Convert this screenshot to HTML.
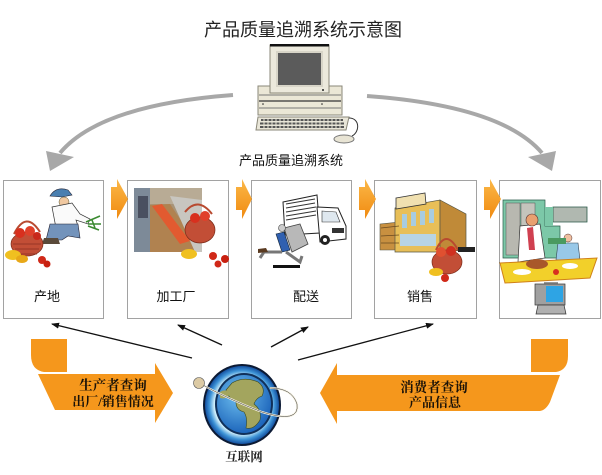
<!DOCTYPE html>
<html><head><meta charset="utf-8">
<style>
html,body{margin:0;padding:0;background:#fff;}
body{width:602px;height:475px;overflow:hidden;}
svg{display:block;}
.sans{font-family:"Liberation Sans","Noto Sans CJK SC",sans-serif;}
.serif{font-family:"Liberation Serif","Noto Serif CJK SC",serif;font-weight:bold;}
</style></head>
<body>
<svg width="602" height="475" viewBox="0 0 602 475" xmlns="http://www.w3.org/2000/svg">
<defs>
<marker id="ah" markerWidth="8" markerHeight="6" refX="7" refY="3" orient="auto" markerUnits="userSpaceOnUse">
<path d="M0,0 L8,3 L0,6 Z" fill="#111"/>
</marker>
<linearGradient id="og" x1="0" y1="0" x2="0" y2="1">
<stop offset="0" stop-color="#fbb848"/><stop offset="1" stop-color="#f08a10"/>
</linearGradient>
<radialGradient id="ring" cx="0.5" cy="0.5" r="0.5">
<stop offset="0.75" stop-color="#cfeefa"/><stop offset="0.88" stop-color="#3f95d8"/><stop offset="1" stop-color="#1450a0"/>
</radialGradient>
<radialGradient id="ocean" cx="0.4" cy="0.35" r="0.7">
<stop offset="0" stop-color="#6fc0f0"/><stop offset="1" stop-color="#1860b8"/>
</radialGradient>
</defs>

<!-- Title -->
<text x="303" y="36" font-size="18" text-anchor="middle" fill="#222" class="sans">产品质量追溯系统示意图</text>

<!-- Gray arcs -->
<path d="M233,95 Q100,105 60,153" fill="none" stroke="#a8a8a8" stroke-width="4"/>
<path d="M46,151 L74,157 L50,171 Z" fill="#a8a8a8"/>
<path d="M367,96 Q502,106 542,153" fill="none" stroke="#a8a8a8" stroke-width="4"/>
<path d="M556,151 L528,157 L552,171 Z" fill="#a8a8a8"/>

<!-- Computer -->
<rect x="258" y="86" width="84" height="29" fill="#ebe7d6" stroke="#8a8778" stroke-width="1"/>
<line x1="259" y1="95" x2="341" y2="95" stroke="#777" stroke-width="1"/>
<line x1="259" y1="101" x2="341" y2="101" stroke="#333" stroke-width="1.2"/>
<line x1="259" y1="108" x2="341" y2="108" stroke="#777" stroke-width="1"/>
<rect x="270" y="45" width="59" height="48" fill="#ece9dc" stroke="#8a8778" stroke-width="1"/>
<rect x="270" y="44" width="59" height="2.5" fill="#111"/>
<rect x="276" y="51" width="47" height="36" fill="#d8d5c8"/>
<rect x="278" y="53" width="43" height="32" fill="#5b5b5b"/>
<circle cx="323" cy="90" r="1" fill="#222"/>
<circle cx="263" cy="104" r="0.8" fill="#222"/>
<circle cx="322" cy="104" r="0.8" fill="#222"/>
<path d="M258,117 L349,117 L346,130 L256,130 Z" fill="#e9e6d8" stroke="#8a8778" stroke-width="1"/>
<g fill="#555">
<rect x="261" y="119" width="82" height="2"/>
<rect x="260" y="122.5" width="84" height="2"/>
<rect x="260" y="126" width="84" height="2"/>
</g>
<g stroke="#e9e6d8" stroke-width="1">
<path d="M264,118 V129 M268,118 V129 M272,118 V129 M276,118 V129 M280,118 V129 M284,118 V129 M288,118 V129 M292,118 V129 M296,118 V129 M300,118 V129 M304,118 V129 M308,118 V129 M312,118 V129 M316,118 V129 M320,118 V129 M324,118 V129 M328,118 V129 M332,118 V129 M336,118 V129 M340,118 V129"/>
</g>
<path d="M349,118 C360,118 360,132 352,136" fill="none" stroke="#333" stroke-width="1"/>
<ellipse cx="344" cy="139" rx="10" ry="4" fill="#e8e4d4" stroke="#777" stroke-width="1"/>

<text x="291" y="165" font-size="13" text-anchor="middle" fill="#111" class="sans">产品质量追溯系统</text>

<!-- Boxes -->
<g fill="#fff" stroke="#444" stroke-width="1" stroke-dasharray="1,1">
<rect x="3.5" y="180.5" width="100" height="138"/>
<rect x="127.5" y="180.5" width="101" height="138"/>
<rect x="251.5" y="180.5" width="100" height="138"/>
<rect x="374.5" y="180.5" width="102" height="138"/>
<rect x="499.5" y="180.5" width="101" height="138"/>
</g>

<!-- Small orange arrows -->
<g fill="url(#og)">
<path d="M111,187 L117,187 L117,179 L128,199 L117,219 L117,210 L111,210 Z"/>
<path d="M236,187 L242,187 L242,179 L252,199 L242,219 L242,210 L236,210 Z"/>
<path d="M359,187 L365,187 L365,179 L376,199 L365,219 L365,210 L359,210 Z"/>
<path d="M484,187 L490,187 L490,179 L501,199 L490,219 L490,210 L484,210 Z"/>
</g>

<!-- Box1: farmer -->
<path d="M50,196 Q56,186 68,190 L72,195 L62,197 Z" fill="#4a7fb0" stroke="#223" stroke-width="0.6"/>
<circle cx="64" cy="202" r="5" fill="#f0c8a0" stroke="#553" stroke-width="0.5"/>
<path d="M52,207 L72,203 L80,214 L90,219 L88,224 L76,220 L78,226 L56,228 Z" fill="#fafafa" stroke="#333" stroke-width="0.7"/>
<path d="M50,224 L78,224 L80,238 L68,236 L62,240 L46,240 Z" fill="#7393bb" stroke="#223" stroke-width="0.6"/>
<path d="M44,238 L58,238 L60,244 L42,244 Z" fill="#5a4a3a"/>
<path d="M86,222 L100,216 M88,224 L101,224 M88,226 L99,230 M92,220 L95,228" stroke="#3a8a30" stroke-width="1.5"/>
<path d="M14,234 Q26,210 40,232" fill="none" stroke="#b84a30" stroke-width="2"/>
<ellipse cx="27" cy="244" rx="16" ry="12" fill="#c24e36" stroke="#7a2a18" stroke-width="0.7"/>
<path d="M13,244 L41,244 M15,249 L39,249 M17,254 L37,254" stroke="#8a3020" stroke-width="0.7"/>
<circle cx="20" cy="233" r="5" fill="#d8301e"/>
<circle cx="30" cy="231" r="5" fill="#e0402a"/>
<circle cx="37" cy="236" r="4" fill="#c8281a"/>
<ellipse cx="13" cy="255" rx="8" ry="5" fill="#f0c020"/>
<ellipse cx="22" cy="259" rx="6" ry="4" fill="#e8a818"/>
<circle cx="42" cy="260" r="4" fill="#d02818"/>
<circle cx="47" cy="264" r="3.5" fill="#c82010"/>
<text x="47" y="301" font-size="13" text-anchor="middle" fill="#111" class="sans">产地</text>

<!-- Box2: factory photo -->
<rect x="134" y="188" width="68" height="64" fill="#a89478"/>
<rect x="134" y="188" width="16" height="64" fill="#7d8a98"/>
<rect x="150" y="188" width="52" height="16" fill="#b8ab95"/>
<path d="M150,205 L170,204 L202,252 L150,252 Z" fill="#b08250"/>
<path d="M152,206 L162,204 L190,241 L180,244 Z" fill="#e25a30"/>
<path d="M170,196 L202,200 L202,252 L195,252 Z" fill="#c8c6c0"/>
<path d="M138,196 L148,196 L148,218 L138,218 Z" fill="#4a5060"/>
<path d="M185,212 Q198,196 212,214" fill="none" stroke="#b84a30" stroke-width="2"/>
<ellipse cx="200" cy="230" rx="15" ry="13" fill="#c24e36" stroke="#7a2a18" stroke-width="0.7"/>
<circle cx="195" cy="218" r="5" fill="#d8301e"/>
<circle cx="205" cy="216" r="5" fill="#e0402a"/>
<ellipse cx="189" cy="254" rx="8" ry="5" fill="#f0c020"/>
<circle cx="213" cy="256" r="4" fill="#d02818"/>
<circle cx="225" cy="259" r="4" fill="#c82010"/>
<circle cx="218" cy="264" r="3.5" fill="#d02818"/>
<text x="176" y="301" font-size="13" text-anchor="middle" fill="#111" class="sans">加工厂</text>

<!-- Box3: truck -->
<path d="M283,202 L317,195 L320,233 L285,235 Z" fill="#fff" stroke="#222" stroke-width="1"/>
<g stroke="#333" stroke-width="1">
<path d="M286,204 L315,199 M286,208 L315,203 M286,212 L316,207 M286,216 L316,211 M286,220 L316,215"/>
</g>
<path d="M317,207 L338,208 L346,226 L346,239 L320,242 Z" fill="#fff" stroke="#222" stroke-width="1"/>
<path d="M322,211 L336,212 L340,222 L322,222 Z" fill="#dfe8ef" stroke="#333" stroke-width="0.6"/>
<rect x="332" y="228" width="12" height="5" fill="#333"/>
<circle cx="325" cy="240" r="5" fill="#222"/><circle cx="325" cy="240" r="2" fill="#fff"/>
<path d="M284,228 L300,224 L308,244 L292,252 Z" fill="#b8b8b8" stroke="#444" stroke-width="0.8"/>
<circle cx="282" cy="228" r="3.5" fill="#ccc" stroke="#444" stroke-width="0.6"/>
<path d="M276,234 L284,232 L290,250 L282,252 Z" fill="#3060b0" stroke="#123" stroke-width="0.6"/>
<path d="M282,252 L264,252 L260,258 M286,252 L300,262 L302,256" fill="none" stroke="#777" stroke-width="3"/>
<path d="M258,249 L266,248 L268,252 L258,253 Z" fill="#5a3a20"/>
<rect x="273" y="265" width="27" height="3" fill="#111"/>
<text x="306" y="301" font-size="13" text-anchor="middle" fill="#111" class="sans">配送</text>

<!-- Box4: store -->
<path d="M380,224 L400,222 L400,250 L380,250 Z" fill="#c89040" stroke="#554" stroke-width="0.6"/>
<path d="M395,208 L440,200 L440,252 L395,252 Z" fill="#e8bf58" stroke="#554" stroke-width="0.7"/>
<path d="M440,200 L466,214 L466,250 L440,252 Z" fill="#c08a38" stroke="#554" stroke-width="0.7"/>
<path d="M396,198 L425,193 L426,204 L396,209 Z" fill="#f0e0b0" stroke="#333" stroke-width="0.8"/>
<rect x="402" y="214" width="5" height="14" fill="#a8cce0"/>
<rect x="411" y="212" width="5" height="14" fill="#a8cce0"/>
<rect x="420" y="211" width="5" height="14" fill="#a8cce0"/>
<rect x="429" y="209" width="5" height="14" fill="#a8cce0"/>
<rect x="400" y="234" width="36" height="12" fill="#b8d4e4"/>
<path d="M381,228 L399,226 M381,236 L399,235 M381,243 L399,243" stroke="#6a4a20" stroke-width="0.8"/>
<path d="M436,250 Q446,228 458,250" fill="none" stroke="#b84a30" stroke-width="2"/>
<ellipse cx="447" cy="262" rx="15" ry="12" fill="#c24e36" stroke="#7a2a18" stroke-width="0.7"/>
<circle cx="441" cy="252" r="5" fill="#e05030"/>
<circle cx="451" cy="251" r="5" fill="#d03020"/>
<ellipse cx="436" cy="272" rx="7" ry="4" fill="#f0c020"/>
<circle cx="445" cy="278" r="4" fill="#d02818"/>
<rect x="458" y="247" width="17" height="5" fill="#222"/>
<text x="420" y="301" font-size="13" text-anchor="middle" fill="#111" class="sans">销售</text>

<!-- Box5: kitchen -->
<path d="M503,200 L545,200 L545,226 L560,226 L560,258 L503,258 Z" fill="#7cc8a8" stroke="#2a5a48" stroke-width="0.7"/>
<rect x="506" y="203" width="14" height="52" fill="#b8b8b0" stroke="#555" stroke-width="0.5"/>
<rect x="521" y="203" width="14" height="52" fill="#c4c4bc" stroke="#555" stroke-width="0.5"/>
<path d="M553,207 L587,207 L587,222 L553,222 Z" fill="#b0b8b0" stroke="#2a5a48" stroke-width="0.8"/>
<path d="M545,207 L553,207 L553,226 L545,226 Z" fill="#7cc8a8"/>
<path d="M520,226 L540,224 L545,258 L518,262 Z" fill="#fff" stroke="#333" stroke-width="0.7"/>
<path d="M527,228 L533,227 L535,250 L529,250 Z" fill="#d04050"/>
<circle cx="532" cy="220" r="6" fill="#e8a070" stroke="#533" stroke-width="0.6"/>
<circle cx="568" cy="238" r="4" fill="#f0c0a0" stroke="#533" stroke-width="0.5"/>
<path d="M558,243 L578,243 L580,260 L556,260 Z" fill="#98c8e8" stroke="#345" stroke-width="0.6"/>
<path d="M548,238 L566,238 L566,244 L548,244 Z" fill="#4a9a60"/>
<path d="M500,263 L597,258 L590,278 L505,283 Z" fill="#f2d02a" stroke="#d08018" stroke-width="1"/>
<ellipse cx="537" cy="264" rx="11" ry="5" fill="#a8582a"/>
<ellipse cx="522" cy="272" rx="9" ry="3" fill="#fff"/>
<ellipse cx="570" cy="266" rx="8" ry="3" fill="#fff"/>
<circle cx="556" cy="272" r="3" fill="#d83020"/>
<rect x="544" y="282" width="14" height="6" fill="#999"/>
<rect x="535" y="284" width="30" height="21" fill="#a0a0a0" stroke="#333" stroke-width="0.7"/>
<rect x="546" y="286" width="17" height="16" fill="#2ea4e4"/>
<path d="M538,305 L564,305 L566,314 L536,314 Z" fill="#b0b0b0" stroke="#333" stroke-width="0.7"/>

<!-- thin black arrows -->
<g stroke="#111" stroke-width="1.3" fill="none" marker-end="url(#ah)">
<line x1="192" y1="358" x2="52" y2="324"/>
<line x1="222" y1="345" x2="178" y2="325"/>
<line x1="271" y1="347" x2="308" y2="327"/>
<line x1="298" y1="360" x2="433" y2="324"/>
</g>

<!-- Bottom orange shapes -->
<path d="M31,339 L67,339 L67,372 L44,372 Q31,370 31,355 Z" fill="#f5971c"/>
<path d="M38,374 L155,374 L155,363 L173,393 L155,423 L155,410 L55,410 Z" fill="#f5971c"/>
<path d="M531,339 L568,339 L568,356 Q568,370 556,372 L531,372 Z" fill="#f5971c"/>
<path d="M560,375 L337,375 L337,363 L320,393 L337,424 L337,411 L540,411 Q546,410 550,402 Z" fill="#f5971c"/>

<text x="113" y="390" font-size="13.5" text-anchor="middle" fill="#1a1208" class="serif">生产者查询</text>
<text x="113" y="406" font-size="13" text-anchor="middle" fill="#1a1208" class="serif">出厂/销售情况</text>
<text x="434" y="392" font-size="13.5" text-anchor="middle" fill="#1a1208" class="serif">消费者查询</text>
<text x="435" y="407" font-size="13" text-anchor="middle" fill="#1a1208" class="serif">产品信息</text>

<!-- Globe -->
<ellipse cx="242" cy="405" rx="39" ry="41" fill="#0c1a34"/>
<ellipse cx="242" cy="405" rx="37" ry="39" fill="url(#ring)"/>
<ellipse cx="244" cy="404" rx="29" ry="31" fill="#10305a"/>
<ellipse cx="244" cy="404" rx="27" ry="29" fill="url(#ocean)"/>
<path d="M232,383 Q244,376 258,382 Q266,388 262,396 Q256,398 254,404 Q262,410 260,420 Q254,430 246,428 Q248,418 244,412 Q236,410 236,402 Q228,398 226,390 Z" fill="#a3a55e" stroke="#3c4a20" stroke-width="0.6"/>
<path d="M220,392 Q226,388 230,394 Q226,400 220,398 Z" fill="#a3a55e"/>
<path d="M199,383 Q230,400 262,412 Q300,424 297,404 Q292,388 270,388" fill="none" stroke="#f4f0e0" stroke-width="2"/>
<path d="M199,383 Q230,400 262,412 Q300,424 297,404 Q292,388 270,388" fill="none" stroke="#333" stroke-width="0.5"/>
<circle cx="199" cy="383" r="5.5" fill="#dccaa4" stroke="#555" stroke-width="0.6"/>
<text x="244" y="461" font-size="12.5" text-anchor="middle" fill="#222" class="serif">互联网</text>
</svg>
</body></html>
